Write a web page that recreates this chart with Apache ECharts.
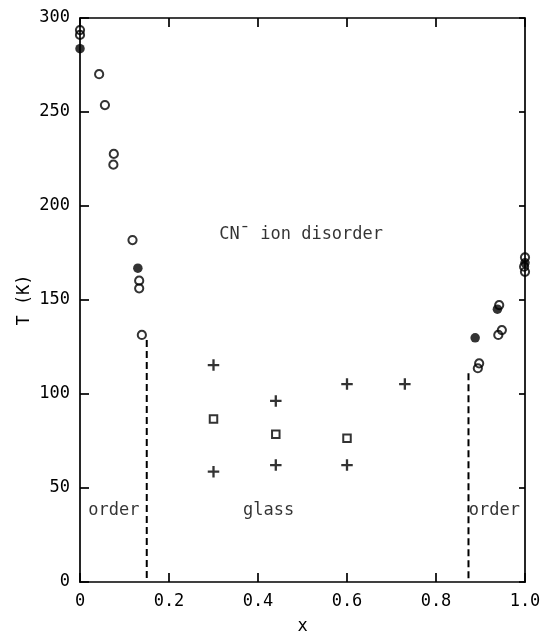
<!DOCTYPE html>
<html>
<head>
<meta charset="utf-8">
<script src="https://cdn.jsdelivr.net/npm/echarts@6/dist/echarts.min.js"></script>
<style>
  html, body { margin: 0; padding: 0; background: #fff; }
  #chart { width: 541px; height: 632px; }
</style>
</head>
<body>
<div id="chart"></div>
<script>
// Phase diagram: transition temperature T (K) against composition x
const xTicks = [0, 0.2, 0.4, 0.6, 0.8, 1.0];
const tTicks = [0, 50, 100, 150, 200, 250, 300];

// Orientational order-disorder transition (open circles)
const openCircles = [
  [0.0, 293.6], [0.0, 291.0],
  [0.043, 270.1], [0.056, 253.7],
  [0.076, 227.7], [0.075, 222.0],
  [0.118, 181.9], [0.133, 160.3], [0.133, 156.2], [0.139, 131.4],
  [0.894, 113.7], [0.897, 116.3],
  [0.940, 131.4], [0.948, 134.0], [0.942, 147.3],
  [1.0, 172.7], [0.998, 167.7], [1.0, 165.0]
];

// Second data set (filled circles)
const filledCircles = [
  [0.0, 283.7], [0.130, 166.9], [0.888, 129.9], [0.938, 145.1], [1.0, 169.8]
];

// Glass region (crosses and squares)
const crosses = [
  [0.30, 115.4], [0.30, 58.7],
  [0.44, 96.3], [0.44, 62.2],
  [0.60, 105.3], [0.60, 62.2],
  [0.73, 105.3]
];
const squares = [
  [0.30, 86.7], [0.44, 78.6], [0.60, 76.4]
];

// Phase boundaries of the ordered regions (dashed)
const leftBoundary = [[0.150, 128.7], [0.150, 0]];
const rightBoundary = [[0.873, 111.0], [0.873, 0]];

// Region labels
const noteText = ['CN\u00AF ion disorder', 'order', 'glass', 'order'];
const noteX = [0.497, 0.076, 0.424, 0.931];
const noteT = [185, 38, 38, 38];

const FONT = "'DejaVu Sans Mono', 'Liberation Mono', monospace";
const INK = '#000';

const plusPath = 'path://M4.4,0H6.6V4.4H11V6.6H6.6V11H4.4V6.6H0V4.4H4.4Z';

function axisBase(extra) {
  return Object.assign({
    type: 'value',
    splitLine: { show: false },
    axisLine: { show: true, onZero: false, lineStyle: { color: INK, width: 1.7 } },
    axisTick: { show: true, inside: true, length: 9, lineStyle: { color: INK, width: 1.7 } },
    axisLabel: { show: false }
  }, extra);
}

const chart = echarts.init(document.getElementById('chart'), null, { renderer: 'canvas' });

chart.setOption({
  animation: false,
  backgroundColor: '#fff',
  grid: { left: 80, right: 16, top: 18, bottom: 50, containLabel: false, outerBoundsMode: 'none' },
  xAxis: [
    axisBase({
      position: 'bottom',
      min: xTicks[0], max: xTicks[xTicks.length - 1], interval: 0.2,
      name: 'x', nameLocation: 'middle', nameGap: 36, nameMoveOverlap: false,
      nameTextStyle: { fontFamily: FONT, fontSize: 17, color: INK },
      axisLabel: {
        show: true, margin: 11, color: INK, fontFamily: FONT, fontSize: 17,
        formatter: v => (v === 0 ? '0' : v.toFixed(1))
      }
    }),
    axisBase({
      position: 'top',
      min: xTicks[0], max: xTicks[xTicks.length - 1], interval: 0.2
    })
  ],
  yAxis: [
    axisBase({
      position: 'left',
      min: tTicks[0], max: tTicks[tTicks.length - 1], interval: 50,
      name: 'T (K)', nameLocation: 'middle', nameGap: 47, nameRotate: 90, nameMoveOverlap: false,
      nameTextStyle: { fontFamily: FONT, fontSize: 17, color: INK },
      axisLabel: { show: true, margin: 10, color: INK, fontFamily: FONT, fontSize: 17 }
    }),
    axisBase({
      position: 'right',
      min: tTicks[0], max: tTicks[tTicks.length - 1], interval: 50,
      axisTick: { show: true, inside: true, length: 6, lineStyle: { color: INK, width: 1.7 } }
    })
  ],
  series: [
    {
      type: 'line', data: leftBoundary, symbol: 'none', silent: true,
      lineStyle: { color: INK, width: 2, type: [7, 4] }
    },
    {
      type: 'line', data: rightBoundary, symbol: 'none', silent: true,
      lineStyle: { color: INK, width: 2, type: [7, 4] }
    },
    {
      type: 'scatter', data: openCircles, symbol: 'circle', symbolSize: 8.2,
      itemStyle: { color: 'transparent', borderColor: INK, borderWidth: 2 }
    },
    {
      type: 'scatter', data: filledCircles, symbol: 'circle', symbolSize: 9.5,
      itemStyle: { color: INK }
    },
    {
      type: 'scatter', data: crosses, symbol: plusPath, symbolSize: 11.5,
      itemStyle: { color: INK }
    },
    {
      type: 'scatter', data: squares, symbol: 'rect', symbolSize: 7.5,
      itemStyle: { color: 'transparent', borderColor: INK, borderWidth: 2 }
    },
    {
      type: 'scatter', silent: true, symbolSize: 0,
      itemStyle: { color: 'transparent' },
      data: noteText.map((t, i) => ({ value: [noteX[i], noteT[i]], name: t })),
      label: {
        show: true, position: [0, 0], align: 'center', verticalAlign: 'middle',
        formatter: p => p.name,
        fontFamily: FONT, fontSize: 17, color: INK
      }
    }
  ]
});
</script>
</body>
</html>
